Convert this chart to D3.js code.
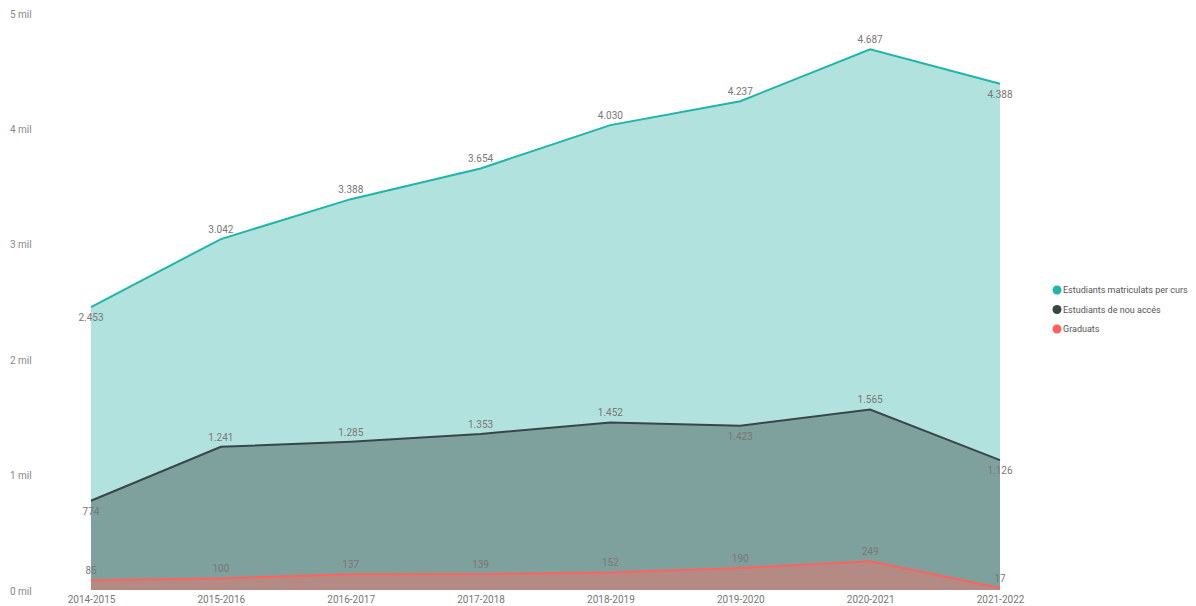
<!DOCTYPE html>
<html>
<head>
<meta charset="utf-8">
<script src="https://cdn.jsdelivr.net/npm/d3@7"></script>
<style>
  html, body { margin: 0; padding: 0; background: #fff; }
  #chart { width: 1196px; height: 606px; }
  text { font-family: Roboto, "DejaVu Sans", sans-serif; }
</style>
</head>
<body>
<div id="chart"></div>
<script>
// dades
const cursos = ["2014-2015", "2015-2016", "2016-2017", "2017-2018", "2018-2019", "2019-2020", "2020-2021", "2021-2022"];
const matriculats = [2453, 3042, 3388, 3654, 4030, 4237, 4687, 4388];
const nouAcces = [774, 1241, 1285, 1353, 1452, 1423, 1565, 1126];
const graduats = [85, 100, 137, 139, 152, 190, 249, 17];
const yTicks = [0, 1000, 2000, 3000, 4000, 5000];
const yTickLabels = ["0 mil", "1 mil", "2 mil", "3 mil", "4 mil", "5 mil"];

// colors
const colors = {
    matric: { line: "#1FB5A8", fill: "#B2E2DE" },
    nou: { line: "#374649", fill: "#7FA19E" },
    grad: { line: "#FD625E", fill: "#B48A84" }
};

const series = [
    { name: "Estudiants matriculats per curs", values: matriculats, c: colors.matric, below: [0, 7] },
    { name: "Estudiants de nou accés", values: nouAcces, c: colors.nou, below: [0, 5, 7] },
    { name: "Graduats", values: graduats, c: colors.grad, below: [] }
];

const width = 1196, height = 606;
const svg = d3.select("#chart").append("svg")
    .attr("width", width)
    .attr("height", height);

// escales
const x = d3.scalePoint()
    .domain(cursos)
    .range([91, 1000]);

const y = d3.scaleLinear()
    .domain([0, 5000])
    .range([590, 13.2]);

// eix Y (sense línies)
svg.append("g")
    .selectAll("text")
    .data(yTicks)
    .enter().append("text")
    .attr("x", 10)
    .attr("y", d => y(d) + 1)
    .attr("dy", "0.35em")
    .attr("font-size", 10)
    .attr("fill", "#888")
    .text((d, i) => yTickLabels[i]);

// eix X
const xAxis = svg.append("g")
    .attr("transform", `translate(0, ${y(0)})`)
    .call(d3.axisBottom(x).tickSize(0).tickPadding(6));
xAxis.select(".domain").remove();
xAxis.selectAll("text")
    .attr("font-size", 10)
    .attr("fill", "#777")
    .style("font-family", "Roboto, 'DejaVu Sans', sans-serif");

// àrees
series.forEach(s => {
    const pts = s.values.map((v, i) => ({ k: cursos[i], v: v }));
    const area = d3.area()
        .x(d => x(d.k))
        .y0(y(0))
        .y1(d => y(d.v));
    const line = d3.line()
        .x(d => x(d.k))
        .y(d => y(d.v));

    svg.append("path")
        .datum(pts)
        .attr("fill", s.c.fill)
        .attr("d", area);

    svg.append("path")
        .datum(pts)
        .attr("fill", "none")
        .attr("stroke", s.c.line)
        .attr("stroke-width", 2)
        .attr("d", line);
});

// etiquetes de dades
const fmt = d3.formatLocale({ decimal: ",", thousands: ".", grouping: [3], currency: ["", "€"] }).format(",d");
series.forEach(s => {
    svg.append("g")
        .selectAll("text")
        .data(s.values)
        .enter().append("text")
        .attr("x", (d, i) => x(cursos[i]))
        .attr("y", (d, i) => s.below.includes(i) ? y(d) + 14 : y(d) - 6)
        .attr("text-anchor", "middle")
        .attr("font-size", 10)
        .attr("fill", "#777")
        .text(d => fmt(d));
});

// llegenda
const legend = svg.append("g")
    .selectAll("g")
    .data(series)
    .enter().append("g")
    .attr("transform", (d, i) => `translate(1057, ${290 + i * 19.5})`);

legend.append("circle")
    .attr("r", 4.5)
    .attr("fill", d => d.c.line);

legend.append("text")
    .attr("x", 6)
    .attr("dy", "0.35em")
    .attr("font-size", 9)
    .attr("fill", "#555")
    .text(d => d.name);
</script>
</body>
</html>
